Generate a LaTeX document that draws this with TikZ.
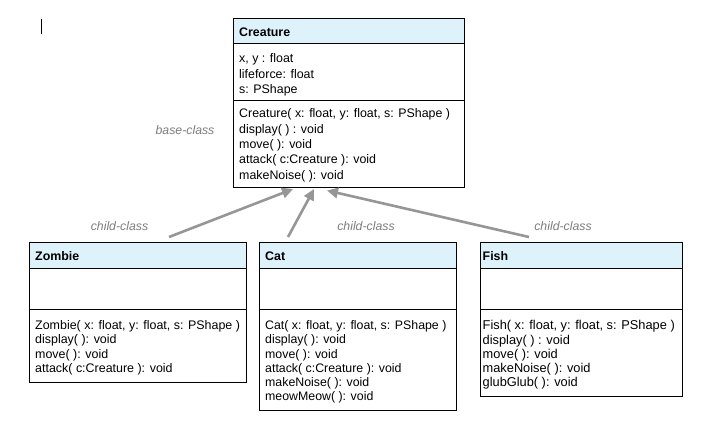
\documentclass[tikz,border=0pt]{standalone}
\usepackage{fontspec}
\setmainfont{Liberation Sans}
\usetikzlibrary{arrows.meta}
\definecolor{hdrblue}{RGB}{221,242,251}
\definecolor{arrgray}{RGB}{150,150,150}
\definecolor{lblgray}{RGB}{125,125,125}
\begin{document}
\begin{tikzpicture}[x=1pt,y=-1pt,
  sect/.style={draw=black, line width=0.9pt, anchor=north west, inner sep=0pt, outer sep=0pt},
  hdr/.style={sect, fill=hdrblue},
  ttl/.style={anchor=north west, inner sep=0pt, font=\fontsize{12.4}{15}\selectfont\bfseries},
  bodyA/.style={anchor=north west, inner sep=0pt, align=left, font=\fontsize{12.4}{15.4}\selectfont},
  bodyB/.style={anchor=north west, inner sep=0pt, align=left, font=\fontsize{12.45}{14.25}\selectfont},
  lbl/.style={inner sep=0pt, text=lblgray, font=\fontsize{12.3}{14}\selectfont\itshape},
  inh/.style={draw=arrgray, line width=2.6pt, -{Triangle[length=11pt,width=10.5pt]}}
]
\useasboundingbox (0,0) rectangle (703,423);
\draw[line width=1pt] (41.5,19) -- (41.5,34);

% Creature
\node[hdr, minimum width=231pt, minimum height=25pt] (crH) at (233.5,18.3) {};
\node[sect, minimum width=231pt, minimum height=57pt] (crA) at (crH.south west) {};
\node[sect, minimum width=231pt, minimum height=87pt] (crM) at (crA.south west) {};
\node[ttl] (crT) at (239,28) {Creature};
\node[bodyA] (crAT) at (239,53.5) {x, y : float\\lifeforce: float\\s: PShape};
\node[bodyA] (crMT) at (239,108.5) {Creature( x: float, y: float, s: PShape )\\display( ) : void\\move( ): void\\attack( c:Creature ): void\\makeNoise( ): void};

% Zombie
\node[hdr, minimum width=217pt, minimum height=26pt] (zoH) at (29.5,242.3) {};
\node[sect, minimum width=217pt, minimum height=41pt] (zoA) at (zoH.south west) {};
\node[sect, minimum width=217pt, minimum height=73pt] (zoM) at (zoA.south west) {};
\node[ttl] (zoT) at (35,251.5) {Zombie};
\node[bodyB] (zoMT) at (35,320.5) {Zombie( x: float, y: float, s: PShape )\\display( ): void\\move( ): void\\attack( c:Creature ): void};

% Cat
\node[hdr, minimum width=197pt, minimum height=26pt] (caH) at (259.5,242.3) {};
\node[sect, minimum width=197pt, minimum height=41pt] (caA) at (caH.south west) {};
\node[sect, minimum width=197pt, minimum height=101pt] (caM) at (caA.south west) {};
\node[ttl] (caT) at (265,251.5) {Cat};
\node[bodyB, font=\fontsize{12.35}{14.25}\selectfont] (caMT) at (265,320.5) {Cat( x: float, y: float, s: PShape )\\display( ): void\\move( ): void\\attack( c:Creature ): void\\makeNoise( ): void\\meowMeow( ): void};

% Fish
\node[hdr, minimum width=202pt, minimum height=26pt] (fiH) at (480,242.3) {};
\node[sect, minimum width=202pt, minimum height=41pt] (fiA) at (fiH.south west) {};
\node[sect, minimum width=202pt, minimum height=87pt] (fiM) at (fiA.south west) {};
\node[ttl] (fiT) at (482.5,251.5) {Fish};
\node[bodyB, font=\fontsize{12.8}{14.25}\selectfont] (fiMT) at (482.5,320.3) {Fish( x: float, y: float, s: PShape )\\display( ) : void\\move( ): void\\makeNoise( ): void\\glubGlub( ): void};

% labels
\node[lbl] (lbBase) at (185,130) {base-class};
\node[lbl] (lbZo) at (119.5,226) {child-class};
\node[lbl] (lbCa) at (366,226) {child-class};
\node[lbl] (lbFi) at (563,226) {child-class};

% inheritance arrows
\coordinate (zoS) at (169,237);
\coordinate (zoE) at (293,189);
\coordinate (caS) at (288,237);
\coordinate (caE) at (314,189);
\coordinate (fiS) at (529,237);
\coordinate (fiE) at (327,190.5);
\draw[inh] (zoS) -- (zoE);
\draw[inh] (caS) -- (caE);
\draw[inh] (fiS) -- (fiE);
\end{tikzpicture}
\end{document}
